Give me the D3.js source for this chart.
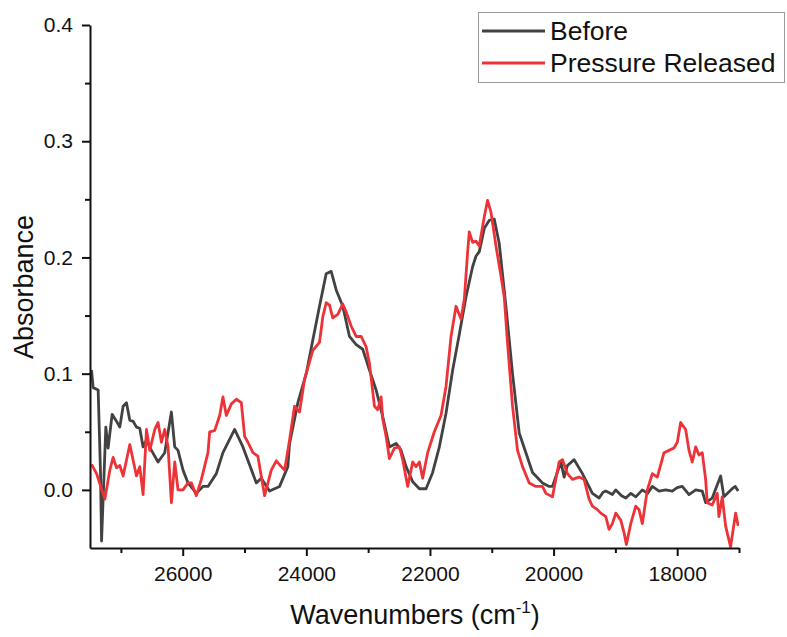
<!DOCTYPE html>
<html><head><meta charset="utf-8">
<script src="https://cdn.jsdelivr.net/npm/d3@7"></script>
<style>body{margin:0;background:#fff} svg{display:block} text{font-family:"Liberation Sans",Arial,sans-serif}</style>
</head><body>
<svg id="chart" width="787" height="637"></svg>
<script>
const seriesNames = ["Before", "Pressure Released"];
const seriesColors = ["#424242", "#ee3338"];
const xTicks = [26000, 24000, 22000, 20000, 18000];
const xMinorTicks = [27000, 25000, 23000, 21000, 19000, 17000];
const yTicks = [0.0, 0.1, 0.2, 0.3, 0.4];
const yMinorTicks = [0.05, 0.15, 0.25, 0.35];
const xTitle = "Wavenumbers (cm";
const yTitle = "Absorbance";

// [wavenumber (cm-1), absorbance]
const before = [
[27475,0.103],[27449,0.088],[27368,0.086],[27330,0.015],[27313,-0.044],[27244,0.054],[27207,0.036],
[27142,0.065],[27082,0.060],[27018,0.054],[26964,0.072],[26910,0.075],[26856,0.060],[26803,0.059],
[26748,0.054],[26695,0.053],[26641,0.037],[26586,0.043],[26506,0.034],[26399,0.024],[26291,0.032],
[26183,0.067],[26129,0.037],[26076,0.034],[25995,0.017],[25914,0.006],[25779,-0.003],[25672,0.003],
[25591,0.003],[25456,0.014],[25349,0.032],[25160,0.052],[25026,0.037],[24809,0.006],[24729,0.010],
[24595,-0.001],[24433,0.003],[24299,0.020],[24271,0.040],[24137,0.075],[24002,0.100],[23895,0.129],
[23787,0.158],[23679,0.186],[23598,0.188],[23517,0.172],[23410,0.158],[23302,0.132],[23194,0.125],
[23087,0.121],[22979,0.103],[22871,0.086],[22764,0.063],[22656,0.037],[22548,0.040],[22467,0.034],
[22386,0.020],[22279,0.007],[22171,0.001],[22063,0.001],[21956,0.015],[21848,0.037],[21740,0.066],
[21633,0.103],[21525,0.134],[21417,0.166],[21310,0.192],[21256,0.201],[21202,0.205],[21121,0.225],
[21040,0.232],[20960,0.233],[20879,0.212],[20771,0.158],[20664,0.100],[20556,0.049],[20448,0.032],
[20341,0.015],[20179,0.006],[20071,0.003],[20018,0.003],[19882,0.024],[19829,0.011],[19775,0.021],
[19667,0.026],[19533,0.014],[19372,-0.003],[19263,-0.007],[19200,-0.002],[19155,-0.001],[19048,-0.004],
[18994,0.000],[18900,-0.005],[18832,-0.007],[18750,-0.003],[18670,-0.006],[18564,0.000],[18480,-0.003],
[18402,0.003],[18294,-0.001],[18186,0.000],[18079,-0.001],[18000,0.002],[17918,0.003],[17809,-0.004],
[17700,0.000],[17594,-0.001],[17540,-0.011],[17433,-0.007],[17297,0.012],[17244,-0.006],[17110,0.001],
[17060,0.003],[17013,-0.001]
];
const released = [
[27475,0.022],[27394,0.014],[27260,-0.008],[27179,0.017],[27126,0.028],[27071,0.019],[27018,0.021],
[26964,0.012],[26856,0.039],[26748,0.012],[26695,0.020],[26641,-0.004],[26586,0.052],[26533,0.034],
[26452,0.052],[26399,0.058],[26344,0.041],[26291,0.052],[26237,0.037],[26183,-0.011],[26129,0.024],
[26076,0.000],[25995,0.000],[25914,0.006],[25859,0.006],[25779,-0.005],[25698,0.009],[25591,0.032],
[25564,0.050],[25483,0.051],[25402,0.064],[25349,0.080],[25294,0.064],[25213,0.074],[25132,0.078],
[25052,0.075],[24998,0.046],[24945,0.041],[24864,0.032],[24784,0.029],[24675,-0.005],[24567,0.017],
[24486,0.025],[24406,0.020],[24352,0.017],[24271,0.043],[24191,0.072],[24110,0.067],[24029,0.095],
[23895,0.120],[23787,0.127],[23733,0.149],[23679,0.161],[23625,0.159],[23572,0.148],[23491,0.151],
[23410,0.160],[23355,0.153],[23275,0.141],[23194,0.132],[23113,0.132],[23032,0.123],[22979,0.109],
[22898,0.072],[22845,0.069],[22790,0.080],[22764,0.061],[22709,0.046],[22656,0.027],[22575,0.036],
[22494,0.037],[22441,0.026],[22360,0.003],[22279,0.024],[22225,0.020],[22171,0.024],[22118,0.010],
[22037,0.032],[21929,0.050],[21821,0.064],[21740,0.089],[21659,0.132],[21578,0.158],[21498,0.147],
[21444,0.164],[21390,0.205],[21364,0.222],[21310,0.213],[21256,0.214],[21202,0.210],[21121,0.235],
[21068,0.249],[21013,0.239],[20932,0.210],[20851,0.184],[20798,0.166],[20750,0.130],[20664,0.072],
[20583,0.034],[20502,0.020],[20394,0.006],[20286,0.003],[20179,0.003],[20124,-0.003],[20018,-0.006],
[19910,0.024],[19856,0.026],[19775,0.014],[19695,0.009],[19586,0.011],[19506,0.009],[19425,-0.008],
[19372,-0.014],[19291,-0.017],[19236,-0.020],[19155,-0.023],[19102,-0.034],[19048,-0.029],[18994,-0.020],
[18913,-0.026],[18859,-0.037],[18822,-0.047],[18751,-0.029],[18670,-0.014],[18617,-0.017],[18564,-0.029],
[18483,0.000],[18402,0.014],[18322,0.011],[18213,0.032],[18133,0.034],[18052,0.036],[17998,0.041],
[17944,0.058],[17863,0.052],[17809,0.034],[17756,0.024],[17701,0.037],[17648,0.030],[17594,0.032],
[17540,0.009],[17514,-0.011],[17433,-0.013],[17352,-0.003],[17325,-0.023],[17271,-0.006],[17217,-0.031],
[17136,-0.049],[17055,-0.020],[17013,-0.031]
];
const series = [before, released];

const svg = d3.select("#chart");
const x = d3.scaleLinear().domain([27500, 17000]).range([90, 739]);
const y = d3.scaleLinear().domain([-0.05, 0.4]).range([548, 25]);

svg.append("defs").append("clipPath").attr("id","clip")
  .append("rect").attr("x",90).attr("y",25).attr("width",649).attr("height",523);

const line = d3.line().x(d => x(d[0])).y(d => y(d[1]));
svg.append("g").attr("clip-path","url(#clip)")
  .selectAll("path").data(series).join("path")
  .attr("d", line).attr("fill","none")
  .attr("stroke",(d,i)=>seriesColors[i]).attr("stroke-width",2.8)
  .attr("stroke-linejoin","round");

// axes
const gx = svg.append("g").attr("transform","translate(0,548)");
gx.call(d3.axisBottom(x).tickValues(xTicks).tickSize(8).tickPadding(10).tickSizeOuter(0).tickFormat(d3.format("d")));
const gxm = svg.append("g").attr("transform","translate(0,548)");
gxm.call(d3.axisBottom(x).tickValues(xMinorTicks).tickSize(5).tickFormat(""));
gxm.select(".domain").remove();

const gy = svg.append("g").attr("transform","translate(90,0)");
gy.call(d3.axisLeft(y).tickValues(yTicks).tickSize(8).tickPadding(9).tickSizeOuter(0).tickFormat(d3.format(".1f")));
const gym = svg.append("g").attr("transform","translate(90,0)");
gym.call(d3.axisLeft(y).tickValues(yMinorTicks).tickSize(5).tickFormat(""));
gym.select(".domain").remove();

svg.selectAll(".domain, .tick line").attr("stroke","#111").attr("stroke-width",2);
svg.selectAll(".tick text").attr("font-size",21).attr("fill","#111")
  .attr("font-family","'Liberation Sans',Arial,sans-serif");

// titles
const xt = svg.append("text").attr("x",415).attr("y",624).attr("text-anchor","middle")
  .attr("font-size",27).attr("fill","#111");
xt.append("tspan").text(xTitle);
xt.append("tspan").attr("font-size",17).attr("dy",-11).text("-1");
xt.append("tspan").attr("dy",11).text(")");

svg.append("text").attr("transform","translate(33,287) rotate(-90)").attr("text-anchor","middle")
  .attr("font-size",27).attr("fill","#111").text(yTitle);

// legend
const lg = svg.append("g");
lg.append("rect").attr("x",478.5).attr("y",12.5).attr("width",306).attr("height",70)
  .attr("fill","#fff").attr("stroke","#9a9a9a").attr("stroke-width",1);
seriesNames.forEach((n,i)=>{
  const yy = 31 + i*32;
  lg.append("line").attr("x1",482).attr("x2",545).attr("y1",yy).attr("y2",yy)
    .attr("stroke",seriesColors[i]).attr("stroke-width",2.8);
  lg.append("text").attr("x",550).attr("y",yy+9).attr("font-size",26.5).attr("fill","#111").text(n);
});
</script>
</body></html>
